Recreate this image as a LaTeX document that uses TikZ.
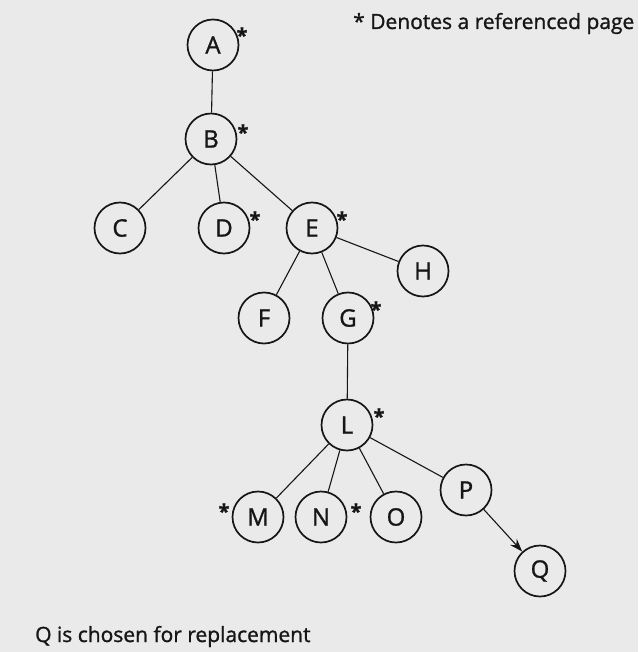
\documentclass[tikz,border=0pt]{standalone}
\usepackage{fontspec}
\setmainfont{Open Sans}[FakeBold=1.2]
\usetikzlibrary{arrows.meta}
\definecolor{bg}{HTML}{EAEAEA}
\definecolor{ink}{HTML}{161616}
\tikzset{
  pg/.style={circle, draw=ink, line width=1.7pt, minimum size=51pt, inner sep=0pt, font=\fontsize{24}{24}\selectfont, text=ink},
  edge/.style={draw=ink, line width=1.1pt},
  star/.style={inner sep=0pt, font=\fontsize{20}{20}\selectfont\bfseries, text=ink, anchor=center},
  lbl/.style={inner sep=0pt, font=\fontsize{21}{24}\selectfont, text=ink, anchor=base west}
}
\begin{document}
\begin{tikzpicture}[x=1pt,y=-1pt]
\useasboundingbox (0,0) rectangle (638,652);
\fill[bg] (0,0) rectangle (638,652);
\node[pg] (A) at (213,45) {A};
\node[pg] (B) at (211,139) {B};
\node[pg] (C) at (120,228) {C};
\node[pg] (D) at (224,228) {D};
\node[pg] (E) at (312,228) {E};
\node[pg] (H) at (423,271) {H};
\node[pg] (F) at (264,318) {F};
\node[pg] (G) at (348,318) {G};
\node[pg] (L) at (347,425) {L};
\node[pg] (M) at (258,517) {M};
\node[pg] (N) at (321,517) {N};
\node[pg] (O) at (396,517) {O};
\node[pg] (P) at (466,490) {P};
\node[pg] (Q) at (540,571) {Q};
\node[star] (sA) at (242,35) {*};
\node[star] (sB) at (243,132) {*};
\node[star] (sD) at (255,219) {*};
\node[star] (sE) at (342,219) {*};
\node[star] (sG) at (376,309) {*};
\node[star] (sL) at (379,416) {*};
\node[star] (sM) at (224,511) {*};
\node[star] (sN) at (356,511) {*};
\draw[edge] (A) -- (B);
\draw[edge] (B) -- (C);
\draw[edge] (B) -- (D);
\draw[edge] (B) -- (E);
\draw[edge] (E) -- (F);
\draw[edge] (E) -- (G);
\draw[edge] (E) -- (H);
\draw[edge] (G) -- (L);
\draw[edge] (L) -- (M);
\draw[edge] (L) -- (N);
\draw[edge] (L) -- (O);
\draw[edge] (L) -- (P);
\draw[edge, -{Stealth[length=13pt,width=9pt]}] (P) -- (Q);
\node[lbl] (key) at (353,29) {* Denotes a referenced page};
\node[lbl] (cap) at (35,642) {Q is chosen for replacement};
\end{tikzpicture}
\end{document}
